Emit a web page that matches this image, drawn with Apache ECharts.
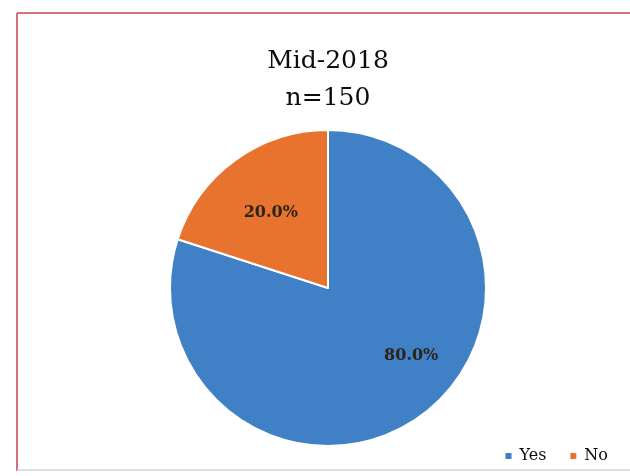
<!DOCTYPE html>
<html>
<head>
<meta charset="utf-8">
<script src="https://cdn.jsdelivr.net/npm/echarts@6/dist/echarts.min.js"></script>
<style>
  html, body { margin: 0; padding: 0; background: #ffffff; }
  #chart { width: 630px; height: 476px; }
</style>
</head>
<body>
<div id="chart"></div>
<script>
// Survey answers, mid-2018 (n=150)
const categories = ['Yes', 'No'];
const shares = [80.0, 20.0];
const colors = ['#3f80c6', '#e8732f'];

// Label nudges (px) relative to the default inside-slice position
const labelNudge = [[35, 2], [-9, -9]];

const chart = echarts.init(document.getElementById('chart'), null, { renderer: 'canvas' });

chart.setOption({
  animation: false,
  backgroundColor: '#ffffff',
  title: {
    text: 'Mid-2018\nn=150',
    left: 323,
    textAlign: 'center',
    top: 38,
    textStyle: {
      fontFamily: 'DejaVu Serif',
      fontSize: 25,
      fontWeight: 'normal',
      color: '#0d0d0d',
      lineHeight: 37
    }
  },
  legend: {
    data: categories,
    right: 17,
    bottom: 7,
    icon: 'rect',
    itemWidth: 8,
    itemHeight: 8,
    itemGap: 22,
    textStyle: {
      fontFamily: 'DejaVu Serif',
      fontSize: 16,
      color: '#0d0d0d',
      padding: [0, 0, 0, 2]
    }
  },
  graphic: [
    {
      type: 'line',
      shape: { x1: 17, y1: 13, x2: 630, y2: 13 },
      style: { stroke: '#d4707a', lineWidth: 2 },
      silent: true
    },
    {
      type: 'line',
      shape: { x1: 17, y1: 13, x2: 17, y2: 471 },
      style: { stroke: '#d4707a', lineWidth: 2 },
      silent: true
    },
    {
      type: 'line',
      shape: { x1: 17, y1: 470, x2: 630, y2: 470 },
      style: { stroke: '#d6d2d2', lineWidth: 1.5 },
      silent: true
    }
  ],
  series: [{
    type: 'pie',
    center: [328, 288],
    radius: [0, 158],
    startAngle: 90,
    clockwise: true,
    data: categories.map((name, i) => ({
      name,
      value: shares[i],
      itemStyle: { color: colors[i] }
    })),
    itemStyle: { borderColor: '#ffffff', borderWidth: 2 },
    label: {
      show: true,
      position: 'inside',
      formatter: p => p.value.toFixed(1) + '%',
      fontFamily: 'DejaVu Serif',
      fontWeight: 'bold',
      fontSize: 16,
      color: '#2d2418'
    },
    labelLine: { show: false },
    labelLayout: params => ({
      dx: labelNudge[params.dataIndex][0],
      dy: labelNudge[params.dataIndex][1]
    }),
    emphasis: { disabled: true }
  }]
});
</script>
</body>
</html>
